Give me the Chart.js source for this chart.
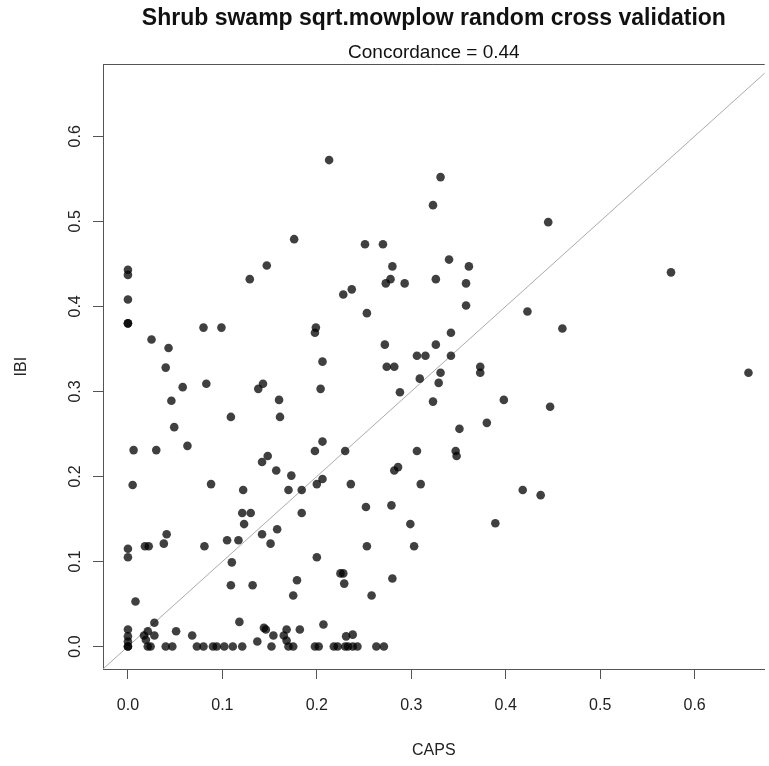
<!DOCTYPE html>
<html><head><meta charset="utf-8">
<script src="https://cdn.jsdelivr.net/npm/chart.js@4.4.1/dist/chart.umd.min.js"></script>
<style>html,body{margin:0;padding:0;background:#fff;overflow:hidden}</style>
</head><body>
<canvas id="c" width="769" height="766"></canvas>
<script>
const titleText = 'Shrub swamp sqrt.mowplow random cross validation';
const subtitleText = 'Concordance = 0.44';
const xLabel = 'CAPS';
const yLabel = 'IBI';
const xTicks = [0.0, 0.1, 0.2, 0.3, 0.4, 0.5, 0.6];
const yTicks = [0.0, 0.1, 0.2, 0.3, 0.4, 0.5, 0.6];
const diag = [-0.1, 0.8];

const caps = [
 0,0,0,0,0,0,0,0,0,0,0,0,
 0.025,0.043,0.040,0.058,0.046,0.049,0.063,0.006,0.030,0.080,0.099,0.083,0.109,0.129,0.147,0.138,0.143,0.160,0.161,
 0.005,0.088,0.122,0.121,0.130,0.123,0.142,0.148,0.157,0.173,0.170,0.158,0.142,0.151,0.018,0.022,0.038,0.041,0.081,
 0.105,0.117,0.110,0.109,0.132,0.008,0.118,0.028,0.051,0.068,0.021,0.017,0.028,0.019,0.021,0.024,0.040,0.047,0.073,
 0.080,0.090,0.094,0.102,0.111,0.121,0.137,0.144,0.146,0.154,0.152,0.168,0.165,0.168,0.170,0.175,0.182,0.179,0.175,
 0.207,0.198,0.202,0.218,0.222,0.230,0.233,0.238,0.243,0.231,0.238,0.263,0.271,
 0.206,0.198,0.230,0.306,0.347,0.348,0.184,0.200,0.206,0.236,0.282,0.286,0.310,0.184,0.252,0.279,0.299,0.253,0.303,
 0.200,0.225,0.228,0.229,0.280,0.258,
 0.213,0.331,0.323,0.176,0.251,0.270,0.340,0.361,0.280,0.278,0.273,0.293,0.326,0.358,0.358,0.237,0.228,0.253,0.199,
 0.198,0.206,0.204,0.272,0.326,0.342,0.306,0.315,0.342,0.274,0.282,0.373,0.373,0.331,0.309,0.329,0.288,0.323,0.351,0.380,
 0.445,0.575,0.423,0.460,0.657,0.398,0.447,0.418,0.437,0.389
];
const ibi = [
 0.443,0.437,0.408,0.380,0.380,0.115,0.105,0.020,0.012,0.006,0.000,0.000,
 0.361,0.351,0.328,0.305,0.289,0.258,0.236,0.231,0.231,0.375,0.375,0.309,0.270,0.432,0.448,0.303,0.309,0.290,0.270,
 0.190,0.191,0.184,0.157,0.157,0.144,0.217,0.224,0.207,0.201,0.184,0.138,0.132,0.121,0.118,0.118,0.121,0.132,0.118,
 0.125,0.125,0.099,0.072,0.072,0.053,0.029,0.028,0.018,0.013,0.018,0.013,0.013,0.008,0.000,0.000,0.000,0.000,0.000,
 0.000,0.000,0.000,0.000,0.000,0.000,0.006,0.022,0.020,0.013,0.000,0.020,0.013,0.007,0.000,0.000,0.020,0.078,0.060,
 0.026,0.000,0.000,0.000,0.000,0.000,0.000,0.000,0.000,0.012,0.014,0.000,0.000,
 0.241,0.230,0.230,0.230,0.230,0.224,0.184,0.191,0.197,0.191,0.207,0.211,0.191,0.157,0.164,0.166,0.144,0.118,0.118,
 0.105,0.086,0.086,0.074,0.080,0.060,
 0.572,0.552,0.519,0.479,0.473,0.473,0.455,0.447,0.447,0.432,0.427,0.427,0.432,0.427,0.401,0.420,0.414,0.392,0.375,
 0.369,0.335,0.303,0.355,0.355,0.369,0.342,0.342,0.342,0.329,0.329,0.329,0.322,0.322,0.315,0.310,0.299,0.288,0.256,0.263,
 0.499,0.440,0.394,0.374,0.322,0.290,0.282,0.184,0.178,0.145
];

const FONT = "'Liberation Sans', Arial, sans-serif";
Chart.defaults.font.family = FONT;
Chart.defaults.color = '#222';

const boxPlugin = {
  id: 'boxTop',
  afterDraw(chart) {
    const {ctx, chartArea: a} = chart;
    ctx.save();
    ctx.strokeStyle = '#555';
    ctx.lineWidth = 1;
    ctx.beginPath();
    ctx.moveTo(a.left, Math.round(a.top) + 0.5);
    ctx.lineTo(a.right, Math.round(a.top) + 0.5);
    ctx.stroke();
    ctx.restore();
  }
};

const points = caps.map((v, i) => ({x: v, y: ibi[i]}));

new Chart(document.getElementById('c'), {
  type: 'scatter',
  data: {
    datasets: [
      {
        type: 'line',
        data: diag.map(v => ({x: v, y: v})),
        borderColor: '#aaaaaa',
        borderWidth: 1,
        pointRadius: 0,
        fill: false,
        order: 2
      },
      {
        data: points,
        backgroundColor: 'rgba(0,0,0,0.75)',
        borderWidth: 0,
        pointRadius: 4.3,
        order: 1
      }
    ]
  },
  options: {
    responsive: false,
    animation: false,
    events: [],
    layout: {padding: 0},
    plugins: {
      legend: {display: false},
      tooltip: {enabled: false},
      title: {
        display: true, text: titleText, fullSize: false,
        color: '#111',
        font: {size: 23, weight: 'bold', family: FONT},
        padding: {top: 5, bottom: 5}
      },
      subtitle: {
        display: true, text: subtitleText, fullSize: false,
        color: '#111',
        font: {size: 19, family: FONT},
        padding: {top: 4, bottom: 0}
      }
    },
    scales: {
      x: {
        type: 'linear', min: -0.0264, max: 0.6742,
        afterBuildTicks: s => { s.ticks = xTicks.map(v => ({value: v})); },
        afterFit: s => { s.height = 97; },
        grid: {display: true, drawOnChartArea: false, drawTicks: true, tickLength: 10, color: '#555'},
        border: {display: true, color: '#555', width: 1},
        ticks: {font: {size: 16}, padding: 17, maxRotation: 0, callback: v => Number(v).toFixed(1), color: '#222'},
        title: {display: true, text: xLabel, font: {size: 16}, padding: {top: 0, bottom: 6}, color: '#222'}
      },
      y: {
        type: 'linear', min: -0.0264, max: 0.6845,
        afterBuildTicks: s => { s.ticks = yTicks.map(v => ({value: v})); },
        afterFit: s => { s.width = 103; },
        grid: {display: true, drawOnChartArea: false, drawTicks: true, tickLength: 10, color: '#555'},
        border: {display: true, color: '#555', width: 1},
        ticks: {font: {size: 16}, padding: 6, minRotation: 90, maxRotation: 90, crossAlign: 'center',
                callback: v => Number(v).toFixed(1), color: '#222'},
        title: {display: true, text: yLabel, font: {size: 16}, padding: {top: 12, bottom: 0}, color: '#222'}
      }
    }
  },
  plugins: [boxPlugin]
});
</script>
</body></html>
